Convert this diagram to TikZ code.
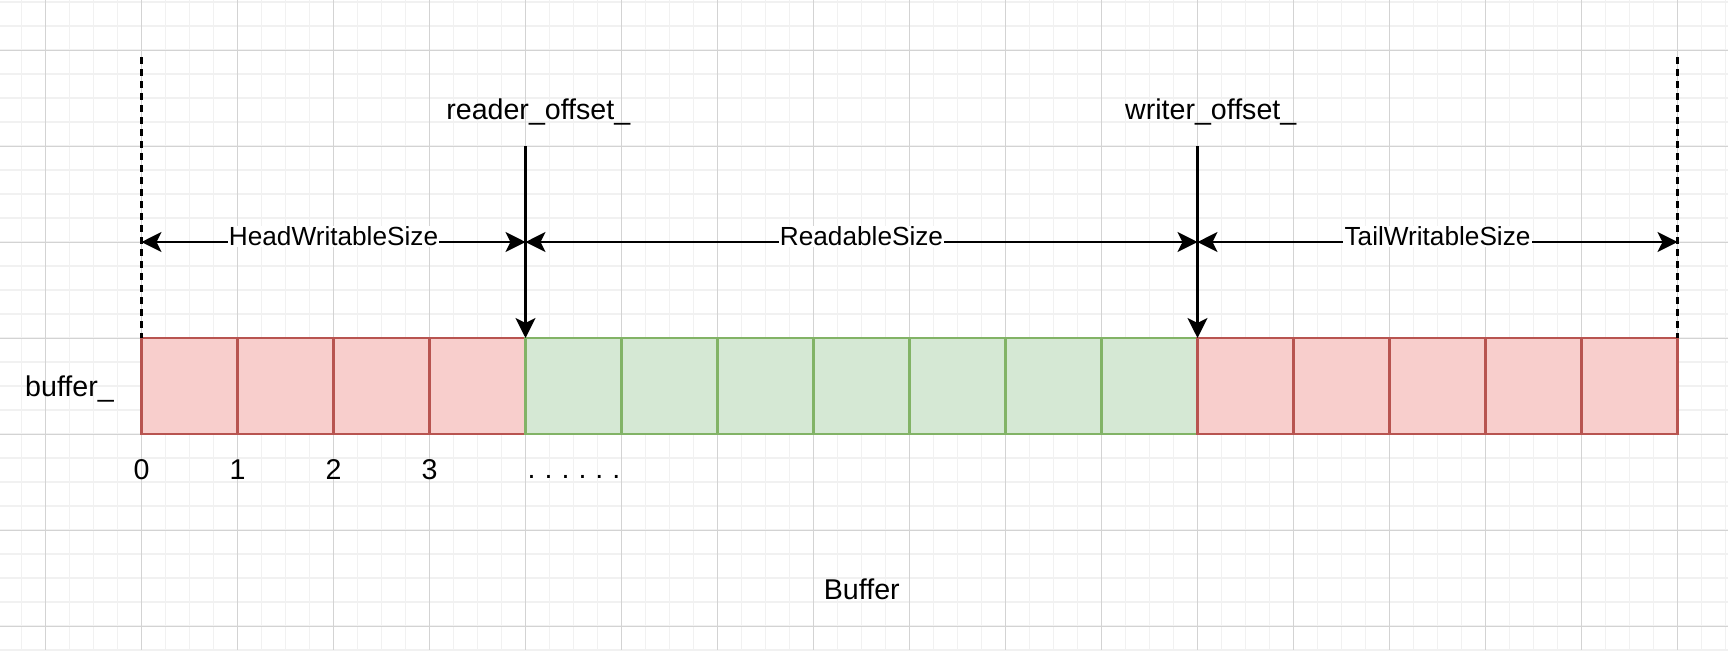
\documentclass[tikz,border=0pt]{standalone}
\usepackage{fontspec}
\setmainfont{Liberation Sans}
\usetikzlibrary{arrows.meta}
\definecolor{redfill}{HTML}{F8CECC}
\definecolor{redline}{HTML}{B85450}
\definecolor{greenfill}{HTML}{D5E8D4}
\definecolor{greenline}{HTML}{82B366}
\definecolor{gridminor}{HTML}{F1F1F1}
\definecolor{gridmajor}{HTML}{D3D3D3}
\tikzset{
  cellbox/.style={draw, line width=1.15pt, minimum width=48pt, minimum height=48pt, inner sep=0pt, outer sep=0pt},
  redcell/.style={cellbox, fill=redfill, draw=redline},
  greencell/.style={cellbox, fill=greenfill, draw=greenline},
  bigtext/.style={font=\fontsize{14.3}{17}\selectfont, inner sep=0pt},
  edgelabel/.style={font=\fontsize{13.1}{16}\selectfont, fill=white, inner sep=0.6pt, anchor=base, yshift=-1.85pt},
  dimarrow/.style={line width=1.1pt, {Stealth[length=10pt, width=10pt, inset=2.5pt]}-{Stealth[length=10pt, width=10pt, inset=2.5pt]}},
  downarrow/.style={line width=1.1pt, -{Stealth[length=10pt, width=10pt, inset=2.5pt]}},
  guide/.style={line width=1.1pt, dash pattern=on 3.5pt off 2.5pt},
}
\begin{document}
\begin{tikzpicture}[x=0.5pt, y=-0.5pt]
\useasboundingbox (0,0) rectangle (1728,650);
\fill[white] (0,0) rectangle (1728,650);
\begin{scope}
\clip (0,0) rectangle (1728,650);
\foreach \i in {0,...,72} {\draw[gridminor, line width=0.6pt] ({-2.5+24*\i},0) -- ({-2.5+24*\i},650);}
\foreach \j in {0,...,27} {\draw[gridminor, line width=0.6pt] (0,{2+24*\j}) -- (1728,{2+24*\j});}
\foreach \i in {0,...,17} {\draw[gridmajor, line width=0.5pt] ({45.5+96*\i},0) -- ({45.5+96*\i},650);}
\foreach \j in {0,...,6} {\draw[gridmajor, line width=0.5pt] (0,{50+96*\j}) -- (1728,{50+96*\j});}
\end{scope}

% cells
\foreach \k in {0,...,3} {\node[redcell] (c\k) at ({189.5+96*\k},386) {};}
\foreach \k in {4,...,10} {\node[greencell] (c\k) at ({189.5+96*\k},386) {};}
\foreach \k in {11,...,15} {\node[redcell] (c\k) at ({189.5+96*\k},386) {};}

% coordinates
\coordinate (dtopL) at (141.5,57);
\coordinate (dtopR) at (1677.5,57);
\coordinate (rtop) at (525.5,146);
\coordinate (wtop) at (1197.5,146);
\coordinate (h0) at (141.5,242);
\coordinate (h1) at (525.5,242);
\coordinate (h2) at (1197.5,242);
\coordinate (h3) at (1677.5,242);

% guides
\draw[guide] (dtopL) -- (c0.north west);
\draw[guide] (dtopR) -- (c15.north east);

% pointer arrows
\draw[downarrow] (rtop) -- (c4.north west);
\draw[downarrow] (wtop) -- (c11.north west);

% dimension arrows
\draw[dimarrow] (h0) -- node[edgelabel] (lhead) {HeadWritableSize} (h1);
\draw[dimarrow] (h1) -- node[edgelabel] (lread) {ReadableSize} (h2);
\draw[dimarrow] (h2) -- node[edgelabel] (ltail) {TailWritableSize} (h3);

% texts
\node[bigtext, anchor=base] (reader) at (538.3,119) {reader\_offset\_};
\node[bigtext, anchor=base] (writer) at (1210.7,119) {writer\_offset\_};
\node[bigtext, anchor=base] (bufname) at (69.5,396) {buffer\_};
\node[bigtext, anchor=base] (n0) at (141.5,479.3) {0};
\node[bigtext, anchor=base] (n1) at (237.5,479.3) {1};
\node[bigtext, anchor=base] (n2) at (333.5,479.3) {2};
\node[bigtext, anchor=base] (n3) at (429.5,479.3) {3};
\node[bigtext, anchor=base] (dots) at (574,478) {.\kern4.5pt.\kern4.5pt.\kern4.5pt.\kern4.5pt.\kern4.5pt.};
\node[bigtext, anchor=base] (title) at (861.8,599.3) {Buffer};
\end{tikzpicture}
\end{document}
